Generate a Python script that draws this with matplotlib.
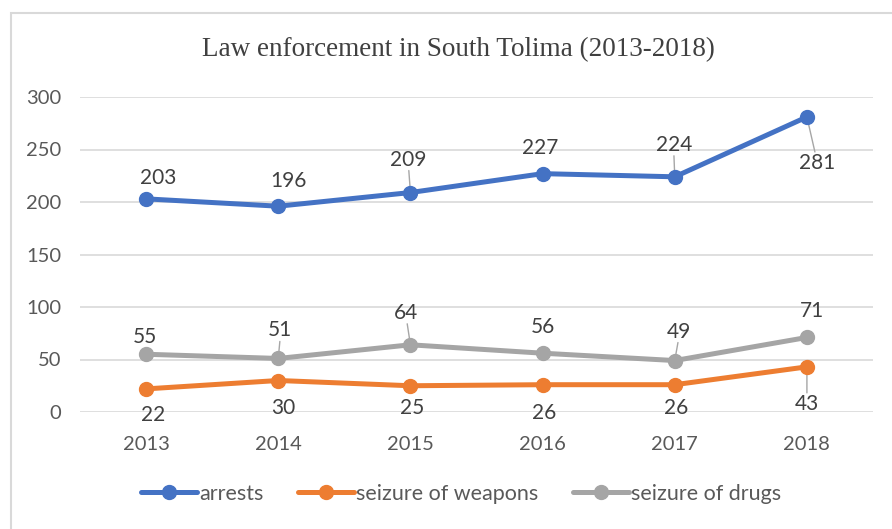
import matplotlib.pyplot as plt
from matplotlib.patches import Rectangle

years = ["2013", "2014", "2015", "2016", "2017", "2018"]
arrests = [203, 196, 209, 227, 224, 281]
weapons = [22, 30, 25, 26, 26, 43]
drugs = [55, 51, 64, 56, 49, 71]

series = [
    ("arrests", arrests, "#4472C4"),
    ("seizure of weapons", weapons, "#ED7D31"),
    ("seizure of drugs", drugs, "#A5A5A5"),
]

# label offsets in pixels (dx, dy) and whether a leader line is drawn
label_offsets = {
    "arrests": [(12, 21, False), (10, 25, False), (-2, 33, True),
                (-2, 26, False), (-1, 32, True), (10, -46, True)],
    "seizure of weapons": [(7, -26, False), (5, -27, False), (2, -22, False),
                           (2, -28, False), (1, -23, False), (0, -37, True)],
    "seizure of drugs": [(-1, 17, False), (2, 28, True), (-4, 32, True),
                         (0, 26, False), (4, 29, True), (5, 26, False)],
}

sans = ["Lato", "DejaVu Sans"]
plt.rcParams["font.family"] = sans

fig = plt.figure(figsize=(8.92, 5.29), dpi=100)
# chart frame, running off the right and bottom edges
fig.patches.append(Rectangle((10.5 / 892, -0.2), 2, 1.2 - 13.5 / 529,
                             transform=fig.transFigure, fill=False,
                             edgecolor="#D9D9D9", linewidth=1.5))
ax = fig.add_axes([80 / 892, 117 / 529, 793 / 892, 315 / 529])

x = list(range(len(years)))
for name, vals, color in series:
    ax.plot(x, vals, color=color, linewidth=3.6, marker="o", markersize=10,
            solid_capstyle="round", label=name, zorder=3)
    for i, v in enumerate(vals):
        dx, dy, leader = label_offsets[name][i]
        ax.annotate(str(v), (i, v), xytext=(dx, dy), textcoords="offset pixels",
                    ha="center", va="center", fontsize=15, color="#404040",
                    zorder=4)
        if leader:
            # short grey leader from the point toward its label
            ax.annotate("", (i, v), xytext=(dx * 0.8, dy - (11 if dy > 0 else -11)),
                        textcoords="offset pixels",
                        arrowprops=dict(arrowstyle="-", color="#A6A6A6", lw=1,
                                        shrinkA=0, shrinkB=4), zorder=2)

ax.set_xlim(-0.5, len(years) - 0.5)
ax.set_ylim(0, 300)
ax.set_yticks(range(0, 301, 50))
ax.set_xticks(x)
ax.set_xticklabels(years)
ax.grid(axis="y", color="#D9D9D9", linewidth=1.2)
ax.set_axisbelow(True)
for s in ax.spines.values():
    s.set_visible(False)
ax.tick_params(length=0, labelsize=14.5, labelcolor="#595959")
ax.tick_params(axis="y", pad=13.5)
ax.tick_params(axis="x", pad=17)

fig.text(458 / 892, 1 - 50 / 529, "Law enforcement in South Tolima (2013-2018)",
         ha="center", va="center", fontsize=19.5, color="#404040",
         family=["Liberation Serif", "DejaVu Serif"])

leg = fig.legend(loc="center", bbox_to_anchor=(461 / 892, 1 - 494 / 529), ncol=3,
                 frameon=False, fontsize=15.5, handlelength=2.6, handletextpad=0.1,
                 columnspacing=1.6, labelcolor="#595959")

fig.savefig("out.png", dpi=100, facecolor="white")
